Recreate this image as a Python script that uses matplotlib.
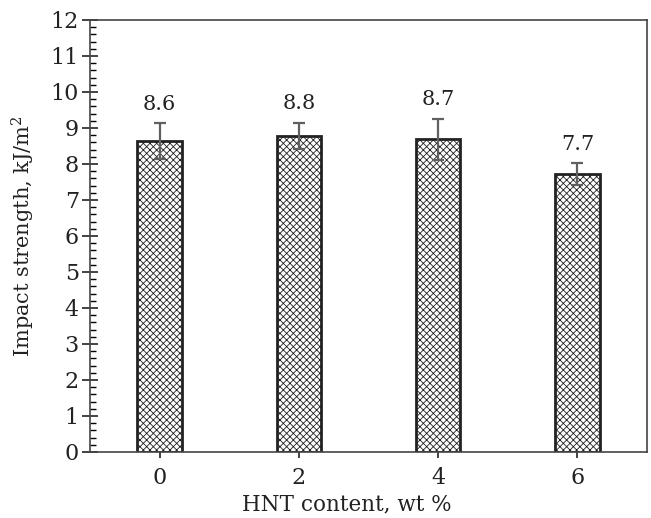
import matplotlib
matplotlib.use("Agg")
import matplotlib.pyplot as plt
from matplotlib.ticker import MultipleLocator

categories = ["0", "2", "4", "6"]
values = [8.64, 8.78, 8.69, 7.72]
errors = [0.50, 0.37, 0.57, 0.30]
labels = ["8.6", "8.8", "8.7", "7.7"]

plt.rcParams['font.family'] = ['DejaVu Serif']
plt.rcParams['hatch.linewidth'] = 0.6
plt.rcParams['hatch.color'] = '#333333'
plt.rcParams['mathtext.fontset'] = 'dejavuserif'

fig = plt.figure(figsize=(6.51, 5.18), dpi=100)
ax = fig.add_axes([90/651, 1 - 452/518, 557/651, 432/518])

x = list(range(len(categories)))
ax.bar(x, values, width=0.32, color='white', edgecolor='#222222', linewidth=2,
       hatch='xxxxx', zorder=2)
ax.errorbar(x, values, yerr=errors, fmt='none', ecolor='#606060', elinewidth=1.6,
            capsize=4.5, capthick=1.6, zorder=3)
for xi, v, e, lab in zip(x, values, errors, labels):
    ax.text(xi, v + e + 0.26, lab, ha='center', va='bottom', fontsize=15, color='#222222')

ax.set_xlim(-0.5, 3.5)
ax.set_ylim(0, 12)
ax.set_xticks(x)
ax.set_xticklabels(categories)
ax.yaxis.set_major_locator(MultipleLocator(1))
ax.yaxis.set_minor_locator(MultipleLocator(0.2))
ax.tick_params(axis='y', which='major', direction='inout', length=12, width=1.2,
               labelsize=16, colors='#222222', pad=2)
ax.tick_params(axis='y', which='minor', direction='in', length=4.5, width=1)
ax.tick_params(axis='x', which='major', direction='inout', length=8, width=1.2,
               labelsize=16, colors='#222222', pad=7)
for s in ax.spines.values():
    s.set_linewidth(1.2)
    s.set_color('#444444')
ax.set_xlabel("HNT content, wt %", fontsize=15.5, color='#222222', labelpad=3)
ax.xaxis.set_label_coords((347 - 90) / 557, -0.095)
ax.set_ylabel("Impact strength, kJ/m$^{2}$", fontsize=15, color='#222222', labelpad=10)

fig.savefig("out.png", dpi=100)
